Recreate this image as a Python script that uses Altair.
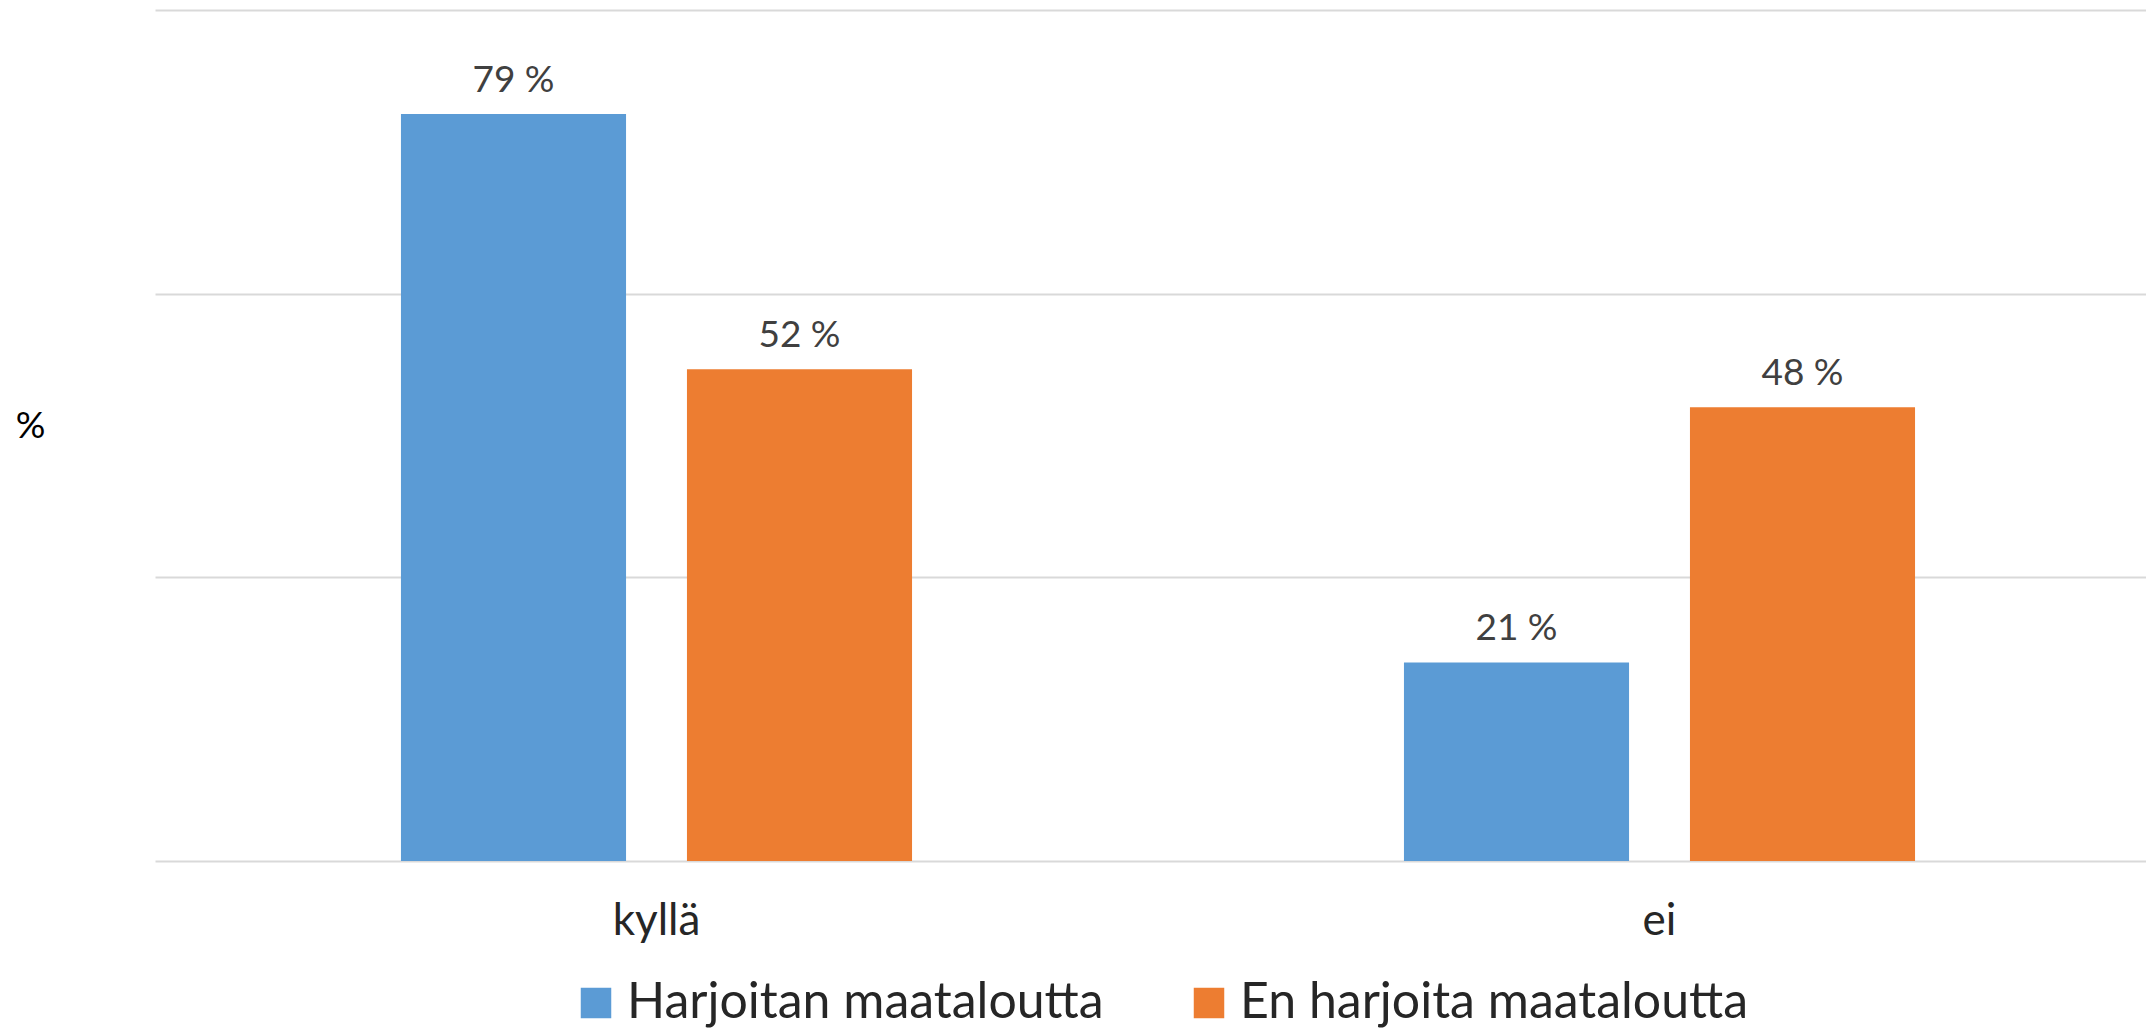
import altair as alt
import pandas as pd

categories = ["kyllä", "ei"]
series = ["Harjoitan maataloutta", "En harjoita maataloutta"]
values_harjoitan = [79, 21]
values_en = [52, 48]
colors = ["#5B9BD5", "#ED7D31"]
grid_values = [0, 30, 60, 90]

rows = []
for s, vals in zip(series, [values_harjoitan, values_en]):
    for c, v in zip(categories, vals):
        rows.append({"kategoria": c, "sarja": s, "arvo": v, "teksti": f"{v} %"})
df = pd.DataFrame(rows)

FONT = "Lato"

x_enc = alt.X(
    "kategoria:N",
    sort=categories,
    scale=alt.Scale(paddingInner=0, paddingOuter=0, range=[0, 2006]),
    axis=alt.Axis(
        title=None,
        labelAngle=0,
        domain=False,
        ticks=False,
        grid=False,
        labelFontSize=44,
        labelFont=FONT,
        labelColor="#262626",
        labelPadding=38,
    ),
)
xoff_enc = alt.XOffset(
    "sarja:N",
    sort=series,
    scale=alt.Scale(paddingInner=0.213, paddingOuter=0.86),
)
y_enc = alt.Y(
    "arvo:Q",
    scale=alt.Scale(domain=[0, 90], nice=False),
    axis=alt.Axis(
        title="%",
        titleAngle=0,
        titleX=-125,
        titleY=416,
        titleAlign="center",
        titleBaseline="middle",
        titleFontSize=37,
        titleFont=FONT,
        titleFontWeight="normal",
        titleColor="#000000",
        labels=False,
        ticks=False,
        domain=False,
        grid=True,
        gridColor="#d9d9d9",
        gridWidth=2,
        values=grid_values,
    ),
)

bars = alt.Chart(df).mark_bar().encode(
    x=x_enc,
    xOffset=xoff_enc,
    y=y_enc,
    color=alt.Color(
        "sarja:N",
        sort=series,
        scale=alt.Scale(domain=series, range=colors),
        legend=alt.Legend(
            title=None,
            orient="none",
            direction="horizontal",
            legendX=416,
            legendY=968,
            symbolType="square",
            symbolSize=930,
            symbolStrokeWidth=0,
            labelFontSize=50,
            labelFont=FONT,
            labelColor="#262626",
            labelOffset=6,
            labelLimit=0,
            columnPadding=80,
            padding=0,
        ),
    ),
)

text = alt.Chart(df).mark_text(
    baseline="alphabetic", dy=-22, fontSize=37, font=FONT, color="#404040"
).encode(
    x=alt.X("kategoria:N", sort=categories, axis=alt.Axis(grid=False)),
    xOffset=alt.XOffset("sarja:N", sort=series),
    y=alt.Y("arvo:Q"),
    text="teksti:N",
)

chart = (
    alt.layer(bars, text)
    .properties(
        width=1991,
        height=851,
        background="white",
        autosize=alt.AutoSizeParams(type="none"),
        padding={"left": 147, "top": 2, "right": 0, "bottom": 171},
    )
    .configure_view(stroke=None, strokeWidth=0)
    .configure_axisX(grid=False)
)

chart.save("out.html", embed_options={"renderer": "svg", "actions": False})
